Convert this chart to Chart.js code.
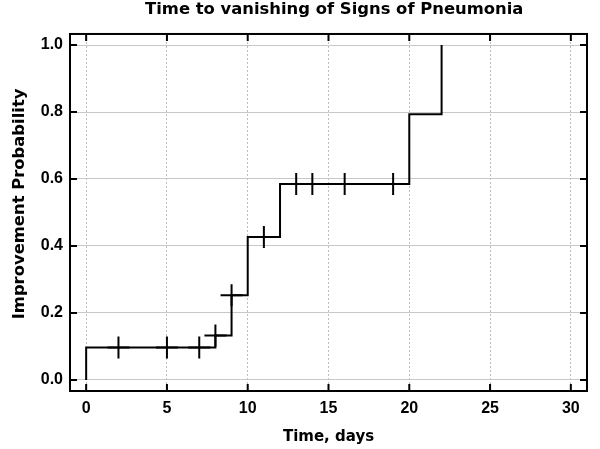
<!DOCTYPE html>
<html>
<head>
<meta charset="utf-8">
<script src="https://cdn.jsdelivr.net/npm/chart.js@4"></script>
<style>
  html, body { margin: 0; padding: 0; background: #fff; }
</style>
</head>
<body>
<canvas id="kmChart" width="600" height="449"></canvas>
<script>
// Kaplan-Meier style step curve (time in days, probability)
const stepTimes = [0, 0, 8, 9, 10, 12, 20, 22];
const stepProbs = [0, 0.097, 0.133, 0.253, 0.427, 0.585, 0.793, 1.0];

// censored observations (drawn as + marks)
const censorTimes = [2, 5, 7, 8, 9, 11, 13, 14, 16, 19];
const censorProbs = [0.097, 0.097, 0.097, 0.133, 0.253, 0.427, 0.585, 0.585, 0.585, 0.585];

const xTickValues = [0, 5, 10, 15, 20, 25, 30];
const yTickValues = [0, 0.2, 0.4, 0.6, 0.8, 1.0];

const TICK_FONT = "'Liberation Sans', Arial, sans-serif";
const TITLE_FONT = "'DejaVu Sans', sans-serif";

// frame round the plot area with inward tick marks on all four sides
const frameTicks = {
    id: 'frameTicks',
    afterDatasetsDraw(chart) {
        const { ctx, chartArea: a, scales: { x, y } } = chart;
        ctx.save();
        ctx.strokeStyle = '#000';
        ctx.lineWidth = 2;
        ctx.beginPath();
        xTickValues.forEach(v => {
            const px = x.getPixelForValue(v);
            ctx.moveTo(px, a.bottom); ctx.lineTo(px, a.bottom - 7);
            ctx.moveTo(px, a.top); ctx.lineTo(px, a.top + 7);
        });
        yTickValues.forEach(v => {
            const py = y.getPixelForValue(v);
            ctx.moveTo(a.left, py); ctx.lineTo(a.left + 7, py);
            ctx.moveTo(a.right, py); ctx.lineTo(a.right - 7, py);
        });
        ctx.stroke();
        ctx.strokeRect(a.left, a.top, a.right - a.left, a.bottom - a.top);
        ctx.restore();
    }
};

new Chart(document.getElementById('kmChart'), {
    type: 'line',
    data: {
        datasets: [
            {
                label: 'Improvement',
                data: stepTimes.map((t, i) => ({ x: t, y: stepProbs[i] })),
                stepped: 'before',
                borderColor: '#000',
                borderWidth: 2,
                pointRadius: 0,
                fill: false
            },
            {
                label: 'Censored',
                type: 'scatter',
                data: censorTimes.map((t, i) => ({ x: t, y: censorProbs[i] })),
                pointStyle: 'cross',
                pointRadius: 11,
                borderColor: '#000',
                borderWidth: 2,
                showLine: false
            }
        ]
    },
    options: {
        responsive: false,
        animation: false,
        devicePixelRatio: 1,
        layout: { padding: { right: 3 } },
        plugins: {
            legend: { display: false },
            tooltip: { enabled: false },
            title: {
                display: true,
                text: '  Time to vanishing of Signs of Pneumonia',
                fullSize: false,
                color: '#000',
                font: { family: TITLE_FONT, size: 16.4, weight: 'bold' },
                padding: { top: 0, bottom: 14.3 }
            }
        },
        scales: {
            x: {
                type: 'linear',
                min: -1,
                max: 31,
                afterBuildTicks: s => { s.ticks = xTickValues.map(v => ({ value: v })); },
                afterFit: s => { s.height = 58; },
                ticks: {
                    color: '#000',
                    padding: 8,
                    maxRotation: 0,
                    font: { family: TICK_FONT, size: 16, weight: 'bold' }
                },
                grid: {
                    color: '#bdbdbd',
                    lineWidth: 1,
                    drawTicks: false
                },
                border: { display: false, dash: [2, 2] },
                title: {
                    display: true,
                    text: 'Time, days',
                    color: '#000',
                    font: { family: TITLE_FONT, size: 15, weight: 'bold' },
                    padding: { top: 0, bottom: 3 }
                }
            },
            y: {
                type: 'linear',
                min: -0.033,
                max: 1.033,
                afterBuildTicks: s => { s.ticks = yTickValues.map(v => ({ value: v })); },
                afterFit: s => { s.width = 70; },
                ticks: {
                    color: '#000',
                    padding: 7,
                    font: { family: TICK_FONT, size: 16, weight: 'bold' },
                    callback: v => v.toFixed(1)
                },
                grid: {
                    color: '#c8c8c8',
                    lineWidth: 1,
                    drawTicks: false
                },
                border: { display: false },
                title: {
                    display: true,
                    text: '   Improvement Probability',
                    color: '#000',
                    font: { family: TITLE_FONT, size: 16.4, weight: 'bold' },
                    padding: { top: 10, bottom: 0 }
                }
            }
        }
    },
    plugins: [frameTicks]
});
</script>
</body>
</html>
